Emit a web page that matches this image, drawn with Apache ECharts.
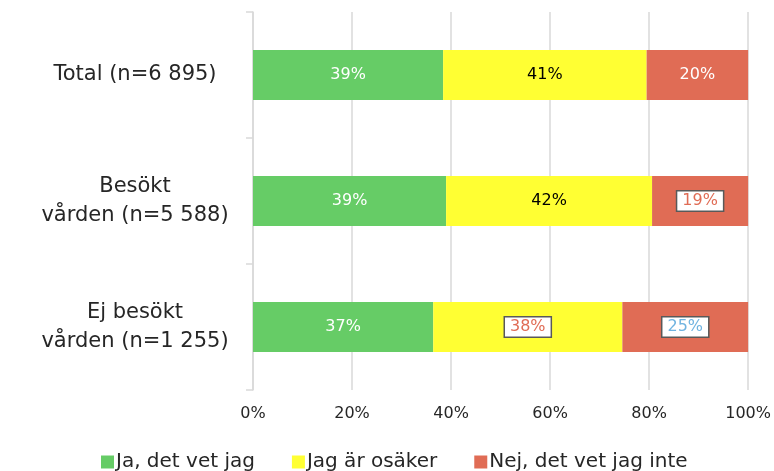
<!DOCTYPE html>
<html>
<head>
<meta charset="utf-8">
<script src="https://cdn.jsdelivr.net/npm/echarts@6/dist/echarts.min.js"></script>
<style>
  html, body { margin: 0; padding: 0; background: #fff; }
  #chart { width: 774px; height: 471px; }
</style>
</head>
<body>
<div id="chart"></div>
<script>
var categories = ["Total (n=6 895)", "Besökt\nvården (n=5 588)", "Ej besökt\nvården (n=1 255)"];
var seriesNames = ["Ja, det vet jag", "Jag är osäker", "Nej, det vet jag inte"];
var jaValues = [38.4, 39.0, 36.4];
var osakerValues = [41.1, 41.6, 38.2];
var nejValues = [20.5, 19.4, 25.4];
var jaLabels = ["39%", "39%", "37%"];
var osakerLabels = ["41%", "42%", "38%"];
var nejLabels = ["20%", "19%", "25%"];
var xTicks = [0, 20, 40, 60, 80, 100];

var FONT = "DejaVu Sans";
var boxStyle = {
  backgroundColor: "#fff",
  borderColor: "#595959",
  borderWidth: 1.5,
  padding: [2, 5, 1, 5]
};

function makeData(values, labels, boxed) {
  return values.map(function (v, i) {
    var item = { value: v, label: { formatter: labels[i] } };
    if (boxed[i]) {
      item.label = Object.assign({ formatter: labels[i], color: boxed[i] }, boxStyle);
    }
    return item;
  });
}

var chart = echarts.init(document.getElementById("chart"));
var option = {
  animation: false,
  textStyle: { fontFamily: FONT },
  grid: { left: 253, right: 25, top: 12, bottom: 81 },
  legend: {
    top: 447,
    left: 96,
    itemWidth: 13,
    itemHeight: 13,
    itemGap: 37,
    icon: "rect",
    textStyle: { fontFamily: FONT, fontSize: 20, color: "#262626", padding: [0, 0, 0, -3] },
    data: seriesNames
  },
  xAxis: {
    type: "value",
    min: 0,
    max: 100,
    interval: 20,
    axisLine: { show: false },
    axisTick: { show: false },
    splitLine: { lineStyle: { color: "#d9d9d9", width: 1.5 } },
    axisLabel: {
      margin: 16,
      fontSize: 16,
      color: "#262626",
      fontFamily: FONT,
      formatter: function (v) { return xTicks.indexOf(v) >= 0 ? v + "%" : ""; }
    }
  },
  yAxis: {
    type: "category",
    inverse: true,
    data: categories,
    axisLine: { lineStyle: { color: "#d9d9d9", width: 1.5 } },
    axisTick: { show: true, length: 7, lineStyle: { color: "#d9d9d9", width: 1.5 } },
    axisLabel: {
      margin: 118,
      fontSize: 21,
      lineHeight: 29,
      color: "#262626",
      fontFamily: FONT,
      align: "center"
    }
  },
  series: [
    {
      name: seriesNames[0],
      type: "bar",
      stack: "all",
      barWidth: 50,
      itemStyle: { color: "#66cc66" },
      label: { show: true, position: "inside", color: "#fff", fontSize: 16, fontFamily: FONT },
      data: makeData(jaValues, jaLabels, [null, null, null])
    },
    {
      name: seriesNames[1],
      type: "bar",
      stack: "all",
      barWidth: 50,
      itemStyle: { color: "#ffff33" },
      label: { show: true, position: "inside", color: "#000", fontSize: 16, fontFamily: FONT },
      data: makeData(osakerValues, osakerLabels, [null, null, "#e06c55"])
    },
    {
      name: seriesNames[2],
      type: "bar",
      stack: "all",
      barWidth: 50,
      itemStyle: { color: "#e06c55" },
      label: { show: true, position: "inside", color: "#fff", fontSize: 16, fontFamily: FONT },
      data: makeData(nejValues, nejLabels, [null, "#e06c55", "#6fb3e0"])
    }
  ]
};
chart.setOption(option);
</script>
</body>
</html>
